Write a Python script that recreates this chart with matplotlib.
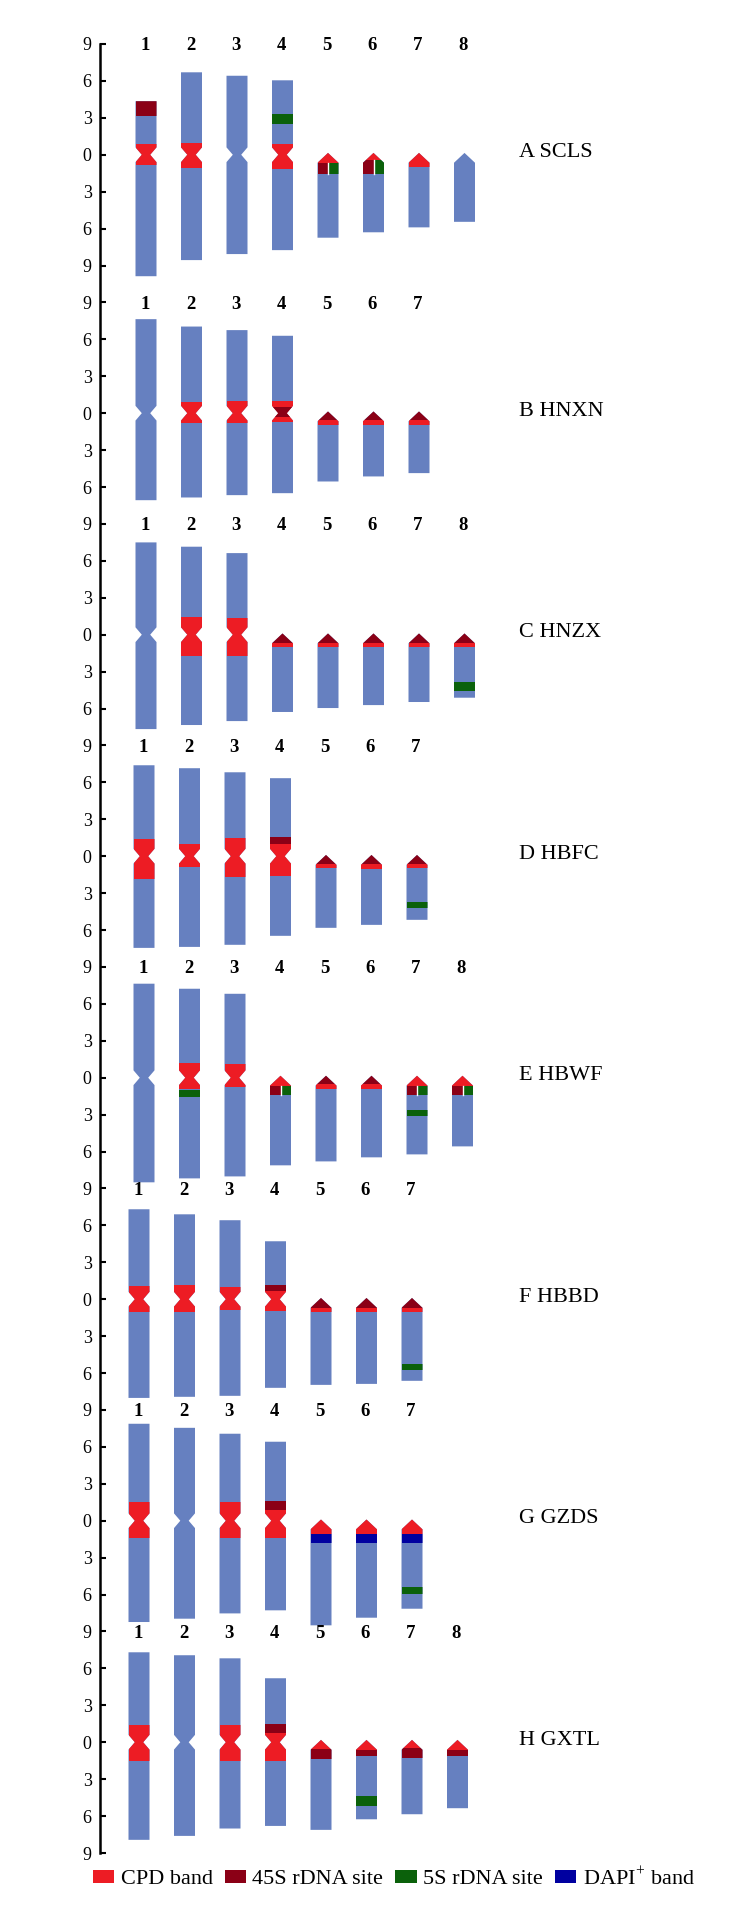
import matplotlib
matplotlib.use('Agg')
import matplotlib.pyplot as plt
from matplotlib.patches import Polygon, Rectangle, Patch

plt.rcParams['font.family'] = ['Liberation Serif', 'DejaVu Serif']
plt.rcParams['mathtext.fontset'] = 'custom'
plt.rcParams['mathtext.rm'] = 'Liberation Serif'

# ---- data (arm lengths in relative units) ----
panel_names = ['A SCLS', 'B HNXN', 'C HNZX', 'D HBFC', 'E HBWF', 'F HBBD', 'G GZDS', 'H GXTL']
n_meta = [4, 4, 3, 4, 3, 4, 4, 4]   # first chromosomes with a centromere notch, rest are acrocentric

short_arm = [
    [4.35, 6.70, 6.42, 6.05, 0.15, 0.15, 0.15, 0.15],
    [7.64, 7.04, 6.75, 6.29, 0.14, 0.14, 0.14],
    [7.50, 7.15, 6.63, 0.10, 0.10, 0.10, 0.10, 0.10],
    [7.39, 7.15, 6.82, 6.34, 0.10, 0.10, 0.10],
    [7.64, 7.23, 6.82, 0.16, 0.16, 0.16, 0.16, 0.16],
    [7.31, 6.90, 6.42, 4.71, 0.10, 0.10, 0.10],
    [7.88, 7.55, 7.07, 6.42, 0.10, 0.10, 0.10],
    [7.31, 7.07, 6.82, 5.20, 0.19, 0.19, 0.19, 0.19],
]
long_arm = [
    [9.87, 8.56, 8.07, 7.75, 6.74, 6.30, 5.90, 5.45],
    [7.07, 6.85, 6.66, 6.50, 5.55, 5.14, 4.87],
    [7.67, 7.34, 7.02, 6.28, 5.96, 5.72, 5.47, 5.12],
    [7.45, 7.37, 7.20, 6.47, 5.82, 5.58, 5.17],
    [8.50, 8.18, 8.02, 7.12, 6.80, 6.47, 6.23, 5.58],
    [8.02, 7.93, 7.85, 7.20, 6.96, 6.88, 6.63],
    [8.23, 7.96, 7.53, 7.28, 8.50, 7.88, 7.15],
    [7.93, 7.61, 7.01, 6.80, 7.12, 6.26, 5.85, 5.36],
]

# (panel, chromosome, upper edge, lower edge[, half])
cpd_bands = [
    (0, 1, 0.85, -0.82), (0, 2, 0.98, -1.10), (0, 4, 0.90, -1.19),
    (0, 5, 0.4, -0.68), (0, 6, 0.4, -0.40), (0, 7, 0.4, -0.97),
    (1, 2, 0.87, -0.81), (1, 3, 1.00, -0.76), (1, 4, 1.00, -0.68),
    (1, 5, -0.55, -0.95), (1, 6, -0.55, -0.95), (1, 7, -0.55, -0.95),
    (2, 2, 1.43, -1.76), (2, 3, 1.32, -1.76), (2, 4, -0.65, -1.0), (2, 5, -0.65, -1.0),
    (2, 6, -0.65, -1.0), (2, 7, -0.65, -1.0), (2, 8, -0.65, -1.0),
    (3, 1, 1.41, -1.84), (3, 2, 1.00, -0.87), (3, 3, 1.46, -1.73), (3, 4, 1.00, -1.62),
    (3, 5, -0.62, -0.95), (3, 6, -0.65, -1.00), (3, 7, -0.62, -0.95),
    (4, 2, 1.22, -0.95), (4, 3, 1.08, -0.79), (4, 4, 0.4, -0.70), (4, 5, -0.55, -0.92),
    (4, 6, -0.55, -0.92), (4, 7, 0.4, -0.70), (4, 8, 0.4, -0.70),
    (5, 1, 1.06, -1.00), (5, 2, 1.14, -1.00), (5, 3, 0.97, -0.87), (5, 4, 0.65, -0.92),
    (5, 5, -0.68, -1.03), (5, 6, -0.68, -1.03), (5, 7, -0.68, -1.03),
    (6, 1, 1.49, -1.41), (6, 3, 1.49, -1.41), (6, 4, 0.84, -1.41),
    (6, 5, 0.4, -1.06), (6, 6, 0.4, -1.06), (6, 7, 0.4, -1.06),
    (7, 1, 1.41, -1.52), (7, 3, 1.41, -1.52), (7, 4, 0.79, -1.52),
    (7, 5, 0.4, -0.57), (7, 6, 0.4, -0.60), (7, 7, 0.4, -0.50), (7, 8, 0.4, -0.60),
]
rdna45_sites = [
    (0, 1, 4.35, 3.15), (0, 5, -0.68, -1.55, 'L'), (0, 6, -0.40, -1.55, 'L'),
    (1, 4, 0.54, -0.35), (1, 5, 0.4, -0.55), (1, 6, 0.4, -0.55), (1, 7, 0.4, -0.55),
    (2, 4, 0.4, -0.65), (2, 5, 0.4, -0.65), (2, 6, 0.4, -0.65), (2, 7, 0.4, -0.65), (2, 8, 0.4, -0.65),
    (3, 4, 1.57, 1.00), (3, 5, 0.4, -0.62), (3, 6, 0.4, -0.65), (3, 7, 0.4, -0.62),
    (4, 4, -0.70, -1.44, 'L'), (4, 5, 0.4, -0.55), (4, 6, 0.4, -0.55),
    (4, 7, -0.70, -1.44, 'L'), (4, 8, -0.70, -1.44, 'L'),
    (5, 4, 1.14, 0.65), (5, 5, 0.4, -0.68), (5, 6, 0.4, -0.68), (5, 7, 0.4, -0.68),
    (6, 4, 1.57, 0.84),
    (7, 4, 1.46, 0.79), (7, 5, -0.57, -1.33), (7, 6, -0.60, -1.10), (7, 7, -0.50, -1.27), (7, 8, -0.60, -1.10),
]
rdna5s_sites = [
    (0, 4, 3.28, 2.47), (0, 5, -0.68, -1.55, 'R'), (0, 6, -0.40, -1.55, 'R'),
    (2, 8, -3.87, -4.58),
    (3, 7, -3.74, -4.20),
    (4, 2, -0.97, -1.60), (4, 4, -0.70, -1.44, 'R'), (4, 7, -0.70, -1.44, 'R'),
    (4, 7, -2.60, -3.09), (4, 8, -0.70, -1.44, 'R'),
    (5, 7, -5.28, -5.74),
    (6, 7, -5.36, -5.98),
    (7, 6, -4.36, -5.17),
]
dapi_bands = [
    (6, 5, -1.06, -1.79), (6, 6, -1.06, -1.79), (6, 7, -1.06, -1.79),
]

# ---- style ----
BODY = '#6680c0'
CPD = '#ed1c24'
R45 = '#8b0016'
R5S = '#0b610b'
DAPI = '#0000a0'
CHR_W = 21          # chromosome width in pixels
TAPER = 0.6         # half height of the centromere constriction
HEAD = 0.8          # height of the pointed top of acrocentrics

W, H = 753, 1909
fig = plt.figure(figsize=(W / 100, H / 100), dpi=100)
ax = fig.add_axes([100 / W, (H - 1853) / H, (W - 100) / W, (1853 - 44) / H])
ax.set_xlim(100, W)
ax.set_ylim(-138, 9)

centres = [0] + [-21 - 18 * i for i in range(7)]
col_start = [146, 146, 146, 144, 144, 139, 139, 139]
col_step = 45.5

outlines = {}
for p, name in enumerate(panel_names):
    c = centres[p]
    for k in range(len(short_arm[p])):
        x = col_start[p] + col_step * k
        top = c + short_arm[p][k]
        bot = c - long_arm[p][k]
        h = CHR_W / 2
        if k < n_meta[p]:
            d = 0.3 * CHR_W
            pts = [(x - h, top), (x + h, top), (x + h, c + TAPER), (x + h - d, c),
                   (x + h, c - TAPER), (x + h, bot), (x - h, bot), (x - h, c - TAPER),
                   (x - h + d, c), (x - h, c + TAPER)]
        else:
            pts = [(x, top), (x + h, top - HEAD), (x + h, bot), (x - h, bot), (x - h, top - HEAD)]
        poly = Polygon(pts, closed=True, facecolor=BODY, edgecolor='none')
        ax.add_patch(poly)
        outlines[(p, k + 1)] = (poly, x)
        ax.text(x - 1, c + 9, str(k + 1), ha='center', va='center_baseline',
                fontsize=13.5, fontweight='bold')
    ax.text(519, c + 0.15, name, ha='left', va='center', fontsize=16)

for bands, colour in [(cpd_bands, CPD), (rdna45_sites, R45), (rdna5s_sites, R5S), (dapi_bands, DAPI)]:
    for band in bands:
        p, k, y1, y2 = band[:4]
        side = band[4] if len(band) > 4 else None
        poly, x = outlines[(p, k)]
        c = centres[p]
        x0, wd = x - CHR_W / 2, CHR_W
        if side == 'L':
            wd = CHR_W / 2
        elif side == 'R':
            x0, wd = x, CHR_W / 2
        r = Rectangle((x0, c + y2), wd, y1 - y2, facecolor=colour, edgecolor='none')
        ax.add_patch(r)
        r.set_clip_path(poly)
        if side == 'L':
            ln, = ax.plot([x, x], [c + y2, c + y1], color='white', lw=1)
            ln.set_clip_path(poly)

# axis with the repeating 9-6-3-0-3-6-9 scale
ticks, labels = [], []
for c in centres:
    for v in [9, 6, 3, 0, -3, -6, -9]:
        y = c + v
        if y not in ticks:
            ticks.append(y)
            labels.append(str(abs(v)))
ax.set_yticks(ticks)
ax.set_yticklabels(labels)
ax.set_xticks([])
for s in ['top', 'right', 'bottom']:
    ax.spines[s].set_visible(False)
ax.spines['left'].set_linewidth(1.8)
ax.tick_params(axis='y', direction='in', length=4, width=1.5, pad=6, labelsize=13)

handles = [Patch(facecolor=CPD, label='CPD band'),
           Patch(facecolor=R45, label='45S rDNA site'),
           Patch(facecolor=R5S, label='5S rDNA site'),
           Patch(facecolor=DAPI, label='DAPI$^{+}$ band')]
fig.legend(handles=handles, loc='center left', bbox_to_anchor=(93 / W, 1 - 1878 / H),
           ncol=4, frameon=False, fontsize=16, handlelength=0.95, handleheight=0.55,
           handletextpad=0.29, columnspacing=0.55, borderpad=0, borderaxespad=0)

fig.savefig('out.png', dpi=100)
